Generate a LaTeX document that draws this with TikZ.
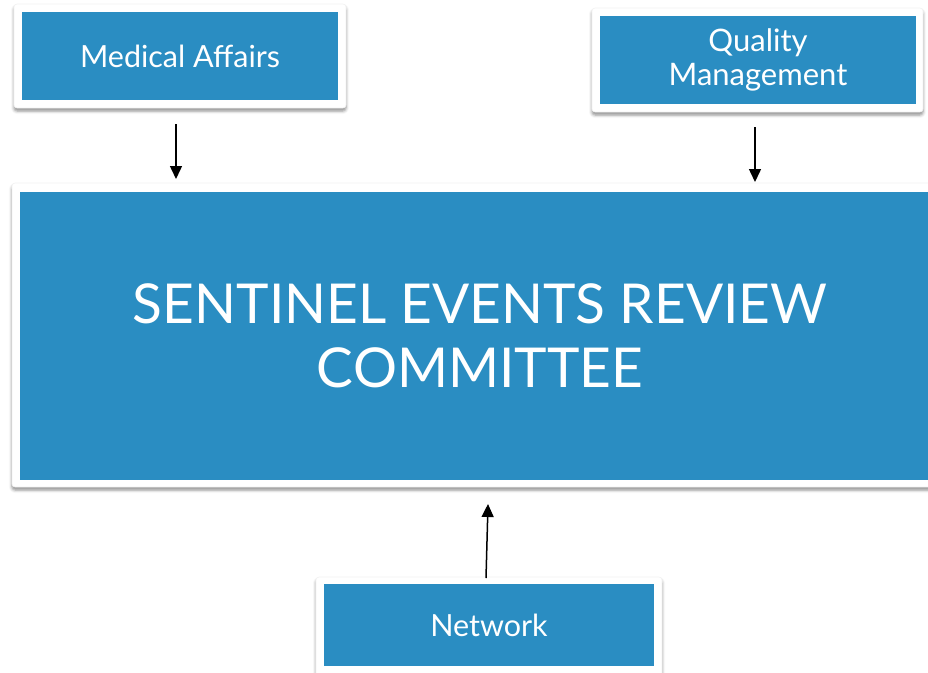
\documentclass[tikz,border=0pt]{standalone}
\usepackage{fontspec}
\setmainfont{Lato}
\usetikzlibrary{shadows.blur,arrows.meta}
\definecolor{boxblue}{RGB}{42,141,194}
\tikzset{
  frame/.style={draw=black!5,line width=0.6pt,fill=white,rounded corners=3pt,inner sep=0pt,
    blur shadow={shadow xshift=0pt,shadow yshift=-3pt,shadow blur radius=3pt,shadow opacity=45}},
  bluebox/.style={fill=boxblue,text=white,inner sep=0pt,align=center},
  arr/.style={line width=1.5pt,-{Triangle[length=13pt,width=12pt]}}
}
\begin{document}
\begin{tikzpicture}[x=1pt,y=-1pt]
\useasboundingbox (0,0) rectangle (928,672);
% frames
\node[frame,minimum width=332pt,minimum height=104pt] (maf) at (180,56) {};
\node[frame,minimum width=331pt,minimum height=104pt] (qmf) at (757.5,60) {};
\node[frame,minimum width=940pt,minimum height=304pt] (scf) at (482,335) {};
\node[frame,minimum width=346pt,minimum height=110pt] (nwf) at (489,632) {};
% blue boxes
\node[bluebox,minimum width=316pt,minimum height=88pt,font=\fontsize{30.5}{36}\selectfont] (ma) at (180,56) {Medical Affairs};
\node[bluebox,minimum width=316pt,minimum height=88pt,font=\fontsize{31}{34}\selectfont] (qm) at (758,60) {Quality\\Management};
\node[bluebox,minimum width=924pt,minimum height=288pt] (sc) at (482,336) {};
\node[text=white,align=center,font=\fontsize{55}{64}\selectfont] (sct) at (480,336) {SENTINEL EVENTS REVIEW\\COMMITTEE};
\node[bluebox,minimum width=330pt,minimum height=82pt,font=\fontsize{30.5}{36}\selectfont] (nw) at (489,625) {Network};
% connectors
\coordinate (a1s) at (176,124); \coordinate (a1e) at (176,179);
\coordinate (a2s) at (755,127); \coordinate (a2e) at (755,182);
\coordinate (a3s) at (486,578); \coordinate (a3e) at (488,504);
\draw[arr] (a1s) -- (a1e);
\draw[arr] (a2s) -- (a2e);
\draw[arr] (a3s) -- (a3e);
\end{tikzpicture}
\end{document}
